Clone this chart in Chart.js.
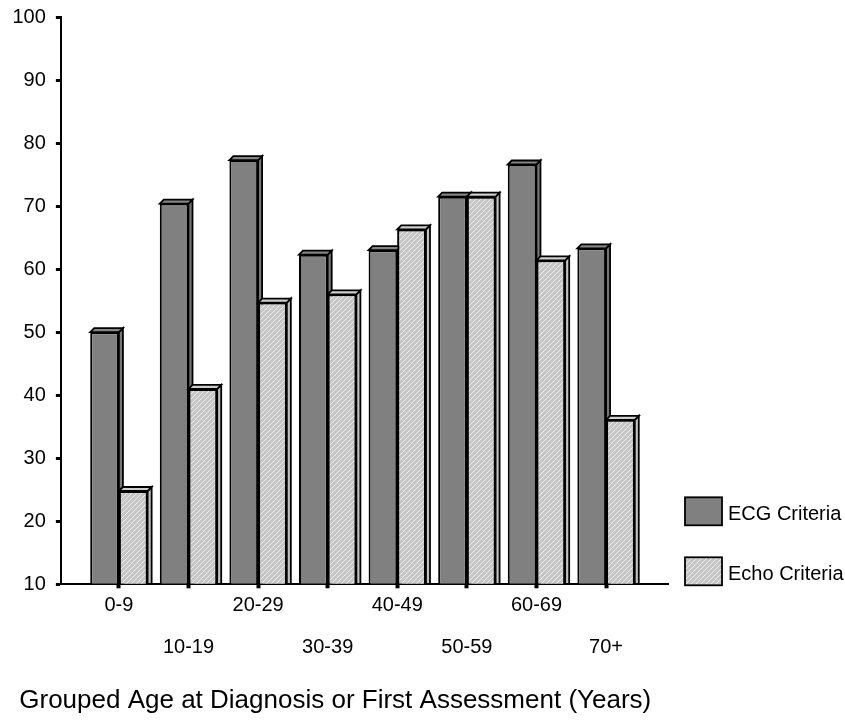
<!DOCTYPE html>
<html>
<head>
<meta charset="utf-8">
<script src="https://cdn.jsdelivr.net/npm/chart.js@4/dist/chart.umd.min.js"></script>
<style>
  html, body { margin: 0; padding: 0; background: #fff; overflow: hidden; }
  canvas { display: block; }
</style>
</head>
<body>
<canvas id="chart" width="845" height="723"></canvas>
<script>
// Age groups and the percentage meeting each criterion
const ageGroups = ['0-9', '10-19', '20-29', '30-39', '40-49', '50-59', '60-69', '70+'];
const ecgCriteria = [50, 70.4, 77.3, 62.3, 63.0, 71.5, 76.6, 63.3];
const echoCriteria = [24.8, 41.0, 54.7, 56.0, 66.3, 71.5, 61.4, 36.1];
const seriesNames = ['ECG Criteria', 'Echo Criteria'];
const yMin = 10, yMax = 100, yStep = 10;
const xTitle = 'Grouped Age at Diagnosis or First Assessment (Years)';

const FONT = "'Liberation Sans', Arial, Helvetica, sans-serif";
const DEPTH = 4;

const canvas = document.getElementById('chart');
const ctx2d = canvas.getContext('2d');

// light grey fill with fine diagonal hatching
function hatchPattern() {
  const s = 5;
  const c = document.createElement('canvas');
  c.width = s; c.height = s;
  const g = c.getContext('2d');
  g.fillStyle = '#c6c6c6';
  g.fillRect(0, 0, s, s);
  g.strokeStyle = '#ededed';
  g.lineWidth = 1;
  g.beginPath();
  g.moveTo(-1, s + 1); g.lineTo(s + 1, -1);
  g.moveTo(-1, 1); g.lineTo(1, -1);
  g.moveTo(s - 1, s + 1); g.lineTo(s + 1, s - 1);
  g.stroke();
  return ctx2d.createPattern(c, 'repeat');
}
const hatch = hatchPattern();

function drawFaces(ctx, el, ds, floor) {
  const p = el.getProps(['x', 'y', 'width', 'base'], true);
  const l = p.x - p.width / 2, r = p.x + p.width / 2, t = p.y;
  const b = Math.min(p.base, floor);
  ctx.beginPath();
  ctx.moveTo(r, t);
  ctx.lineTo(r + DEPTH, t - DEPTH);
  ctx.lineTo(r + DEPTH, b);
  ctx.lineTo(r, b);
  ctx.closePath();
  ctx.fillStyle = ds.sideColor;
  ctx.fill();
  ctx.stroke();
  ctx.beginPath();
  ctx.moveTo(l, t);
  ctx.lineTo(l + DEPTH, t - DEPTH);
  ctx.lineTo(r + DEPTH, t - DEPTH);
  ctx.lineTo(r, t);
  ctx.closePath();
  ctx.fillStyle = ds.topColor;
  ctx.fill();
  ctx.stroke();
}

// top and right faces give each bar its box look; later series sit in
// front of the side faces of earlier ones, so their fronts are repainted
const bars3d = {
  id: 'bars3d',
  afterDatasetsDraw(chart) {
    const ctx = chart.ctx;
    const floor = chart.chartArea.bottom;
    chart.data.datasets.forEach((ds, i) => {
      const meta = chart.getDatasetMeta(i);
      if (i > 0) meta.data.forEach(el => el.draw(ctx));
      ctx.save();
      ctx.lineWidth = 1.8;
      ctx.strokeStyle = '#000';
      ctx.lineJoin = 'miter';
      meta.data.forEach(el => drawFaces(ctx, el, ds, floor));
      ctx.restore();
    });
  }
};

// key placed to the right of the plot, near its floor
const sideLegend = {
  id: 'sideLegend',
  afterDraw(chart) {
    const ctx = chart.ctx, area = chart.chartArea;
    const x = area.right + 17;
    ctx.save();
    chart.data.datasets.forEach((ds, i) => {
      const top = area.bottom - 87 + i * 60;
      ctx.fillStyle = ds.backgroundColor;
      ctx.fillRect(x, top, 37, 28);
      ctx.lineWidth = 1.8;
      ctx.strokeStyle = '#000';
      ctx.strokeRect(x, top, 37, 28);
      ctx.fillStyle = '#000';
      ctx.font = '20px ' + FONT;
      ctx.textBaseline = 'middle';
      ctx.textAlign = 'left';
      ctx.fillText(ds.label, x + 43, top + 17);
    });
    ctx.restore();
  }
};

new Chart(canvas, {
  type: 'bar',
  data: {
    datasets: [
      {
        label: seriesNames[0],
        data: ecgCriteria.map((v, i) => ({ x: i, y: v })),
        base: yMin,
        backgroundColor: '#808080',
        topColor: '#858585',
        sideColor: '#777777',
        borderColor: '#000',
        borderWidth: 2
      },
      {
        label: seriesNames[1],
        data: echoCriteria.map((v, i) => ({ x: i, y: v })),
        base: yMin,
        backgroundColor: hatch,
        topColor: '#cfcfcf',
        sideColor: '#c2c2c2',
        borderColor: '#000',
        borderWidth: 2
      }
    ]
  },
  options: {
    responsive: false,
    devicePixelRatio: 1,
    animation: false,
    events: [],
    categoryPercentage: 0.825,
    barPercentage: 1.0,
    layout: { padding: { top: 13, left: 2.5, right: 177, bottom: 0 } },
    plugins: {
      legend: { display: false },
      tooltip: { enabled: false },
      title: {
        display: true,
        position: 'bottom',
        text: xTitle,
        color: '#000',
        font: { family: FONT, size: 26, weight: 'normal' },
        padding: { top: 20.5, bottom: 7 }
      }
    },
    scales: {
      x: {
        type: 'linear',
        min: -0.834,
        max: 7.89,
        offset: false,
        z: 1,
        border: { display: true, color: '#000', width: 2 },
        grid: { offset: false, drawOnChartArea: false, drawTicks: true, tickLength: 4, tickWidth: 4, tickColor: '#000' },
        afterBuildTicks: scale => { scale.ticks = ageGroups.map((_, i) => ({ value: i })); },
        ticks: {
          autoSkip: false,
          maxRotation: 0,
          padding: 6.5,
          color: '#000',
          font: { family: FONT, size: 20, lineHeight: 1.05 },
          callback: v => {
            const i = Math.round(v);
            return i % 2 === 0 ? [ageGroups[i], '', ''] : ['', '', ageGroups[i]];
          }
        }
      },
      y: {
        min: yMin,
        max: yMax,
        beginAtZero: false,
        border: { display: true, color: '#000', width: 2 },
        grid: { drawOnChartArea: false, drawTicks: true, tickLength: 5, tickWidth: 3, tickColor: '#000' },
        ticks: {
          stepSize: yStep,
          padding: 10,
          color: '#000',
          font: { family: FONT, size: 20, lineHeight: 0.7 }
        }
      }
    }
  },
  plugins: [bars3d, sideLegend]
});
</script>
</body>
</html>
